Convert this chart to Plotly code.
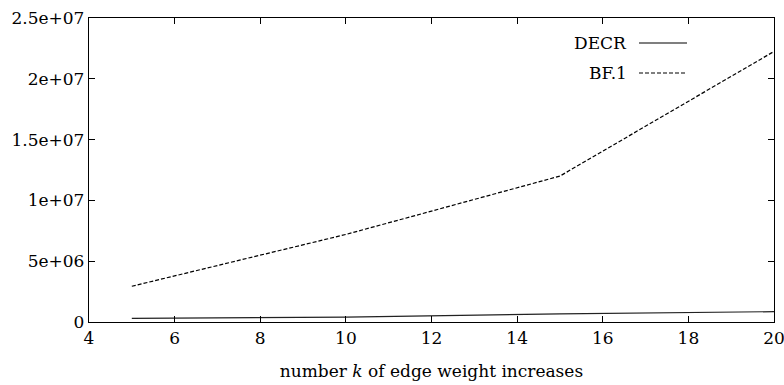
import plotly.graph_objects as go

k_values = [5, 10, 15, 20]
decr = [0.3e6, 0.4e6, 0.67e6, 0.85e6]
bf1 = [2.94e6, 7.2e6, 12.0e6, 22.25e6]

x_ticks = [4, 6, 8, 10, 12, 14, 16, 18, 20]
y_ticks = [0, 5e6, 1e7, 1.5e7, 2e7, 2.5e7]
y_tick_labels = ["0", "5e+06", "1e+07", "1.5e+07", "2e+07", "2.5e+07"]

series_names = ["DECR", "BF.1"]
series_dash = ["solid", "4px,2px"]

W, H = 784, 385
ml, mr, mt, mb = 89, 10, 18, 63
FONT = "DejaVu Serif"
FS = 17

fig = go.Figure()
fig.add_trace(go.Scatter(x=k_values, y=decr, mode="lines", name=series_names[0],
                         line=dict(color="#222", width=1.2, dash=series_dash[0]),
                         showlegend=False))
fig.add_trace(go.Scatter(x=k_values, y=bf1, mode="lines", name=series_names[1],
                         line=dict(color="#000", width=1.2, dash=series_dash[1]),
                         showlegend=False))

# custom gnuplot-style legend (text left of sample)
pw = W - ml - mr
ph = H - mt - mb
legend_y_px = [43, 73]
text_right_px = 629
line_x0_px, line_x1_px = 639, 687
for name, dash, ypx in zip(series_names, series_dash, legend_y_px):
    yp = 1 - (ypx - mt) / ph
    fig.add_annotation(x=(text_right_px - ml) / pw, y=yp, xref="paper", yref="paper",
                       text=name, showarrow=False, xanchor="right", yanchor="middle",
                       font=dict(family=FONT, size=FS, color="#000"))
    fig.add_shape(type="line", xref="paper", yref="paper",
                  x0=(line_x0_px - ml) / pw, x1=(line_x1_px - ml) / pw, y0=yp, y1=yp,
                  line=dict(color="#000", width=1.2, dash=dash))

fig.update_layout(
    width=W, height=H,
    margin=dict(l=ml, r=mr, t=mt, b=mb),
    paper_bgcolor="white", plot_bgcolor="white",
    font=dict(family=FONT, size=FS, color="#000"),
    xaxis=dict(range=[4, 20], tickvals=x_ticks, ticktext=[str(v) for v in x_ticks],
               automargin=False, ticklabeloverflow="allow",
               showgrid=False, zeroline=False, showline=True, linecolor="#000", linewidth=1.3,
               mirror="allticks", ticks="inside", ticklen=6, tickcolor="#000",
               tickfont=dict(family=FONT, size=FS),
               title=dict(text="number <i>k</i> of edge weight increases", standoff=18,
                          font=dict(family=FONT, size=FS))),
    yaxis=dict(range=[0, 2.5e7], tickvals=y_ticks, ticktext=y_tick_labels,
               automargin=False, ticklabeloverflow="allow",
               showgrid=False, zeroline=False, showline=True, linecolor="#000", linewidth=1.3,
               mirror="allticks", ticks="inside", ticklen=6, tickcolor="#000",
               tickfont=dict(family=FONT, size=FS)),
)

fig.write_html("out.html")
